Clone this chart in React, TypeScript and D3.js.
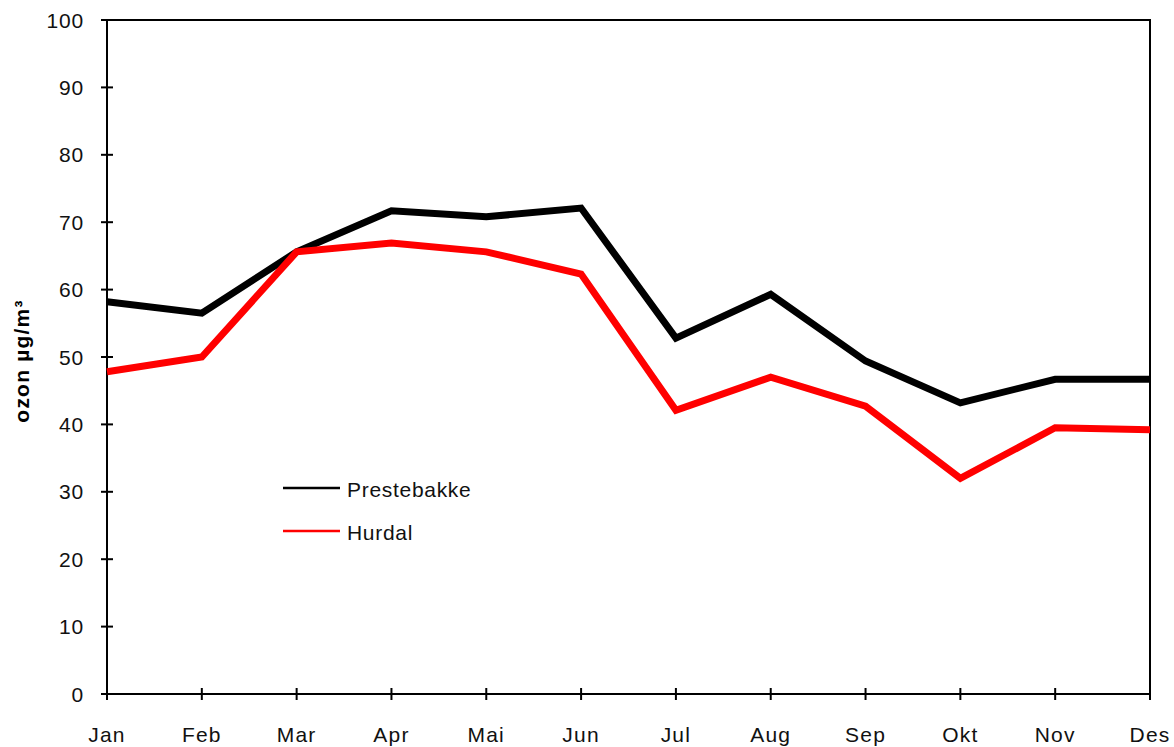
import React from "react";
import * as d3 from "d3";

const months = ["Jan", "Feb", "Mar", "Apr", "Mai", "Jun", "Jul", "Aug", "Sep", "Okt", "Nov", "Des"];
const prestebakke = [58.2, 56.5, 65.6, 71.7, 70.8, 72.1, 52.8, 59.3, 49.4, 43.2, 46.7, 46.7];
const hurdal = [47.8, 50.0, 65.6, 66.9, 65.6, 62.3, 42.1, 47.0, 42.7, 32.0, 39.5, 39.2];
const yTicks = [0, 10, 20, 30, 40, 50, 60, 70, 80, 90, 100];

const series = [
  { name: "Prestebakke", values: prestebakke, color: "#000000" },
  { name: "Hurdal", values: hurdal, color: "#ff0000" },
];

export default function App() {
  const W = 1174, H = 747;
  const left = 107, right = 1150, top = 20, bottom = 694;
  const x = d3.scalePoint<string>().domain(months).range([left, right]);
  const y = d3.scaleLinear().domain([0, 100]).range([bottom, top]);
  const line = d3.line<number>().x((_, i) => x(months[i])!).y((d) => y(d));
  const font = "'Liberation Sans', Arial, sans-serif";
  return (
    <svg width={W} height={H} style={{ position: "absolute", left: 0, top: 0 }} fontFamily={font}>
      <rect x={0} y={0} width={W} height={H} fill="#fff" />
      <rect x={left} y={top} width={right - left} height={bottom - top} fill="none" stroke="#000" strokeWidth={2} />
      {yTicks.map((t) => (
        <g key={t}>
          <line x1={left - 6} x2={left + 6} y1={y(t)} y2={y(t)} stroke="#000" strokeWidth={2} />
          <text x={left - 23} y={y(t) + 7.5} textAnchor="end" fontSize={21} letterSpacing={0.8} fill="#111">{t}</text>
        </g>
      ))}
      {months.map((m) => (
        <g key={m}>
          <line x1={x(m)} x2={x(m)} y1={bottom - 6} y2={bottom + 6} stroke="#000" strokeWidth={2} />
          <text x={x(m)} y={bottom + 48} textAnchor="middle" fontSize={21} letterSpacing={1.2} fill="#111">{m}</text>
        </g>
      ))}
      {series.map((s) => (
        <path key={s.name} d={line(s.values)!} fill="none" stroke={s.color} strokeWidth={7} strokeLinejoin="miter" />
      ))}
      {series.map((s, i) => (
        <g key={s.name}>
          <line x1={283} x2={340} y1={488 + i * 43} y2={488 + i * 43} stroke={s.color} strokeWidth={2.5} />
          <text x={347} y={488 + i * 43 + 8.5} fontSize={21} letterSpacing={0.7} fill="#111">{s.name}</text>
        </g>
      ))}
      <text transform={`translate(29,361) rotate(-90)`} textAnchor="middle" fontSize={21} fontWeight="bold" letterSpacing={1.2} fill="#000">ozon µg/m³</text>
    </svg>
  );
}
